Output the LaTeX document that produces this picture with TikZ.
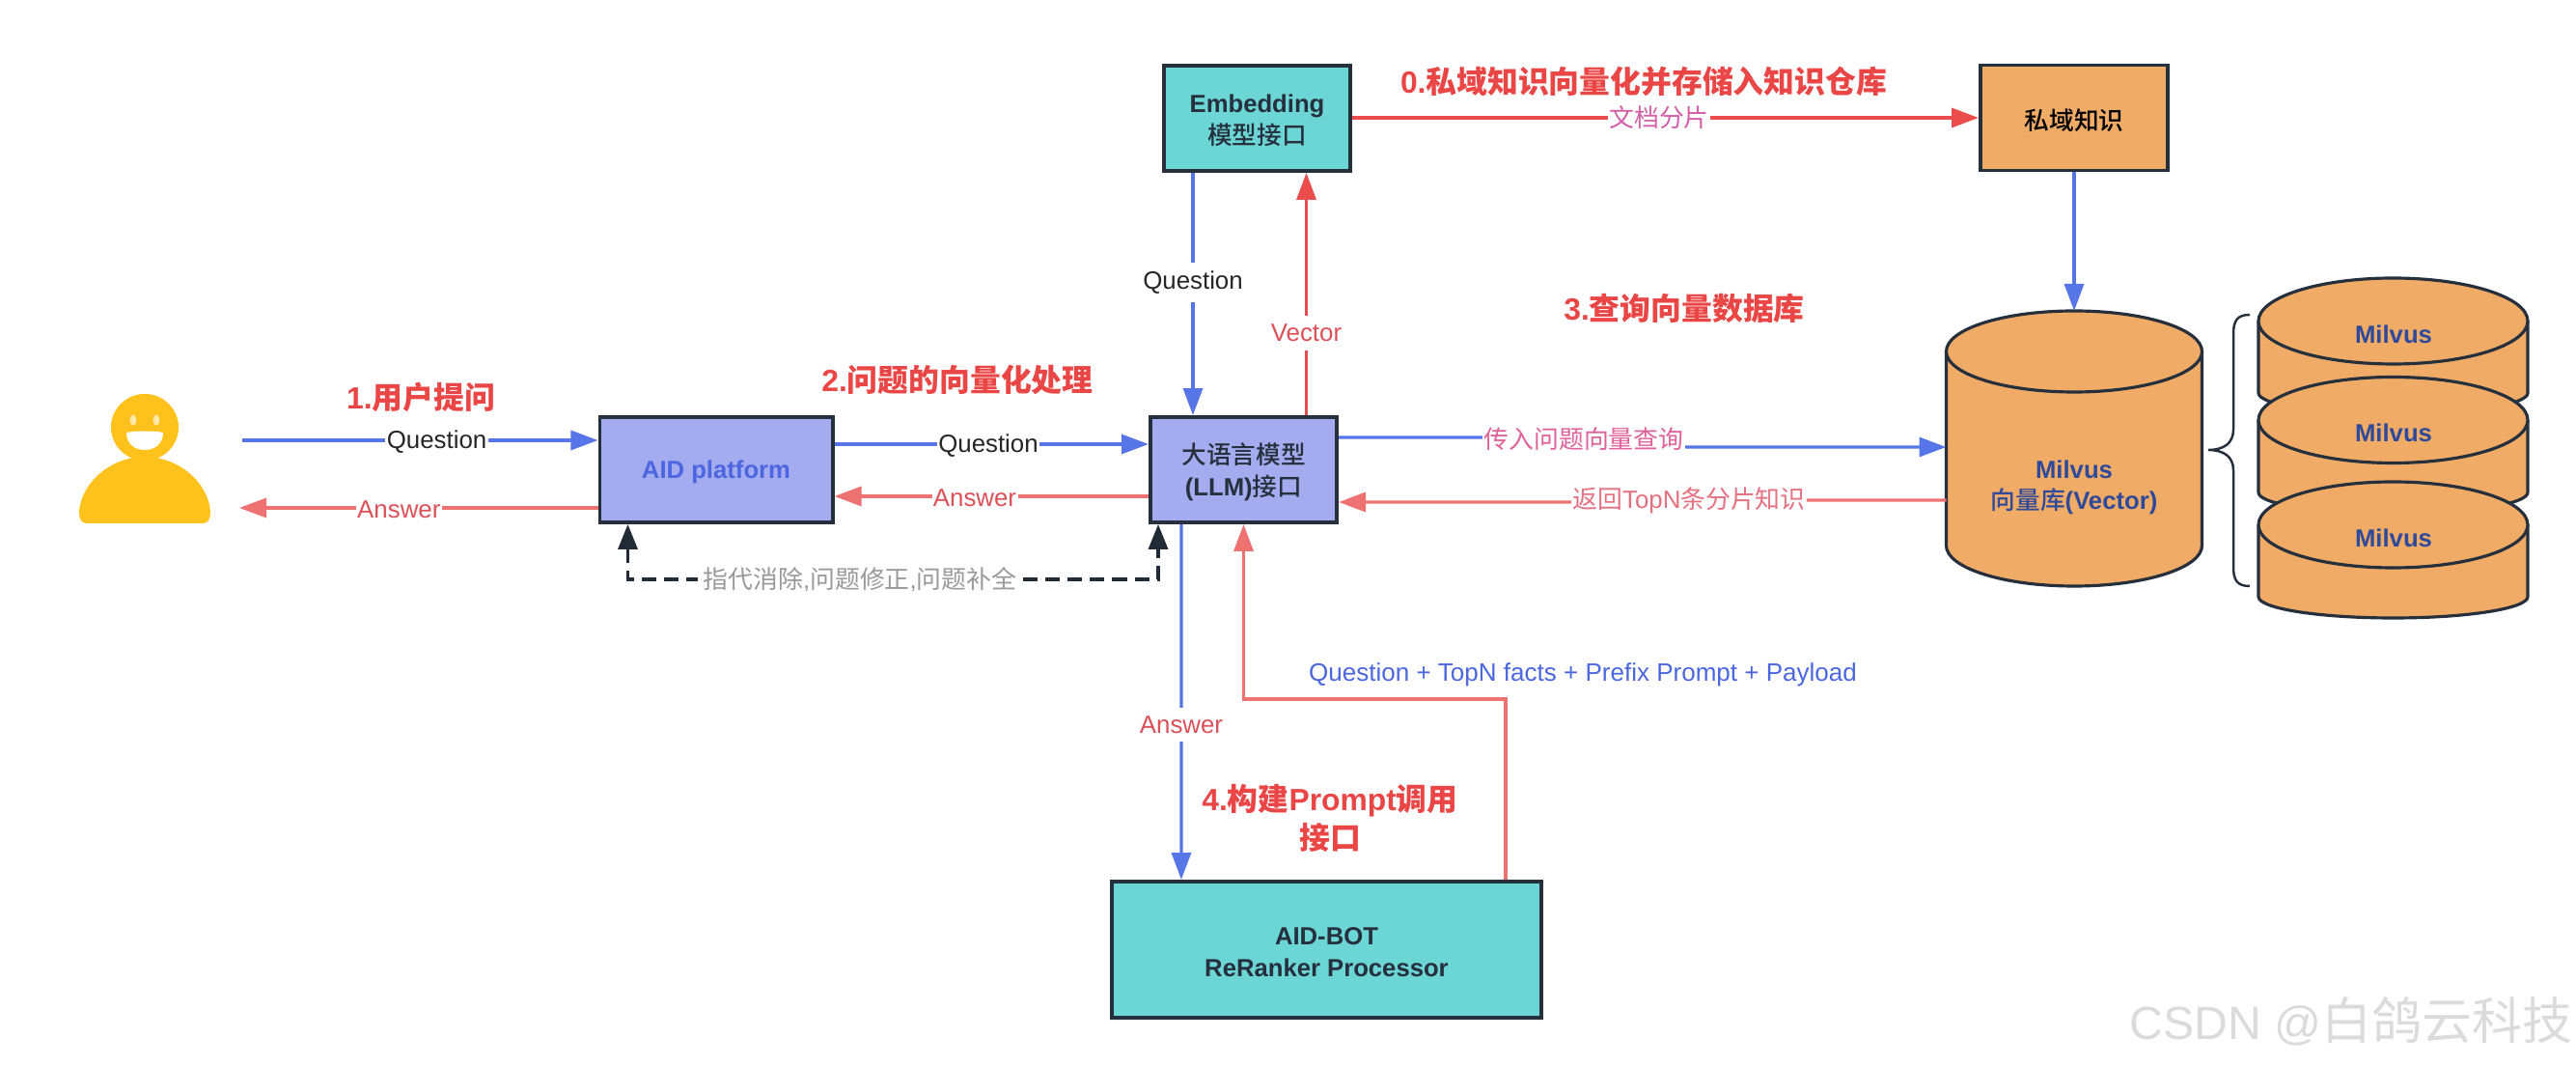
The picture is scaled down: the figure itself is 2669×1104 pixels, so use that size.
\documentclass[tikz,border=0pt]{standalone}
\usepackage{fontspec}
\setmainfont{Liberation Sans}
\newfontfamily\cjk{Noto Sans CJK SC}
\newfontfamily\cjkmid{Noto Sans CJK SC Medium}[BoldFont={Noto Sans CJK SC Medium}]
\usetikzlibrary{arrows.meta,calc}

\definecolor{lineblue}{HTML}{5676E8}
\definecolor{linered}{HTML}{EB4D4D}
\definecolor{linepink}{HTML}{EF7272}
\definecolor{boxlav}{HTML}{A5ABEF}
\definecolor{boxteal}{HTML}{6CD6D6}
\definecolor{boxorange}{HTML}{F0AB66}
\definecolor{edgedark}{HTML}{25303C}
\definecolor{titlered}{HTML}{EA4646}
\definecolor{textblue}{HTML}{4A66E0}
\definecolor{dbtext}{HTML}{2F4A9A}
\definecolor{docpink}{HTML}{D45FA8}
\definecolor{querypink}{HTML}{E0609A}
\definecolor{backpink}{HTML}{E57080}
\definecolor{ansred}{HTML}{DC5058}
\definecolor{facepale}{HTML}{FFE7A6}
\definecolor{personyellow}{HTML}{FFC11C}

\newcommand{\zh}[1]{{\cjk #1}}
\newcommand{\zhm}[1]{{\cjkmid #1}}

\tikzset{
  boxnode/.style={draw=edgedark, line width=1.1pt, inner sep=0pt},
  boxlab/.style={align=center, yshift=-0.7pt, font=\fontsize{7.3}{9.4}\selectfont\bfseries, text=edgedark},
  title/.style={font=\fontsize{9.05}{11.4}\selectfont\bfseries, text=titlered, align=center},
  lab/.style={fill=white, inner xsep=0.4pt, inner ysep=2.5pt, font=\fontsize{7.35}{9}\selectfont},
  latinlab/.style={lab, yshift=-0.4pt},
  flow/.style={line width=0.95pt, -{Triangle[length=2.8mm,width=2mm]}},
  dbedge/.style={draw=edgedark, fill=boxorange, line width=0.9pt},
  dbtxt/.style={font=\fontsize{7.3}{9.2}\selectfont\bfseries, text=dbtext, align=center}
}

\begin{document}
\begin{tikzpicture}[x=0.01cm, y=-0.01cm]
    \useasboundingbox (0,0) rectangle (2669,1104);

    % Person
    \fill[personyellow] (90,542) .. controls (84,542) and (82,537) .. (82,530)
      .. controls (84,500) and (115,473) .. (150,473)
      .. controls (185,473) and (216,500) .. (218,530)
      .. controls (218,537) and (216,542) .. (210,542) -- cycle;
    \fill[personyellow] (150,442.5) ellipse [x radius=35, y radius=34.5];
    \fill[facepale] (138,435) ellipse [x radius=3.5, y radius=5.5];
    \fill[facepale] (162,435) ellipse [x radius=3.5, y radius=5.5];
    \fill[white] (131,448) .. controls (140,446) and (160,446) .. (169,448)
      .. controls (169,460) and (160,466) .. (150,466)
      .. controls (140,466) and (131,460) .. (131,448) -- cycle;
    \coordinate (UserOut) at (251,456);
    \coordinate (UserIn) at (248,526);

    % Boxes
    \node[boxnode, fill=boxlav, minimum width=2.41cm, minimum height=1.09cm] (AID) at (742,486.5) {};
    \node[boxlab, text=textblue] (AIDtxt) at (AID) {AID platform};
    \node[boxnode, fill=boxlav, minimum width=1.93cm, minimum height=1.09cm] (LLM) at (1288.5,486.5) {};
    \node[boxlab] (LLMtxt) at (LLM) {\zhm{大语言模型}\\(LLM)\zhm{接口}};
    \node[boxnode, fill=boxteal, minimum width=1.93cm, minimum height=1.09cm] (Embed) at (1302.5,122.5) {};
    \node[boxlab] (Embedtxt) at (Embed) {Embedding\\\zhm{模型接口}};
    \node[boxnode, fill=boxorange, minimum width=1.94cm, minimum height=1.09cm] (Private) at (2149,122) {};
    \node[boxlab, text=black] (Privatetxt) at (Private) {\zhm{私域知识}};
    \node[boxnode, fill=boxteal, minimum width=4.45cm, minimum height=1.41cm] (Bot) at (1374.5,983.5) {};
    \node[boxlab] (Bottxt) at (Bot) {AID-BOT\\ReRanker Processor};

    % Big vector store
    \draw[dbedge] (2016.5,364) -- (2016.5,565) arc[start angle=180, end angle=0, x radius=132.5, y radius=42] -- (2281.5,364);
    \draw[dbedge] (2149,364) ellipse [x radius=132.5, y radius=42];
    \node[dbtxt] (Vector) at (2149,505) {Milvus\\\zhm{向量库}(Vector)};
    \coordinate (VecTop) at (2149,322);
    \coordinate (VecIn) at (2016.5,463);
    \coordinate (VecOut) at (2016.5,518);

    % Stacked drums
    \foreach \cy/\sy/\ry/\ty/\n in {332.5/407/22/346/1, 435/510/22/448/2, 543.5/618/22/557/3} {
      \draw[dbedge] (2340,\cy) -- (2340,\sy) arc[start angle=180, end angle=0, x radius=139.5, y radius=\ry] -- (2619,\cy);
      \draw[dbedge] (2479.5,\cy) ellipse [x radius=139.5, y radius=44.5];
      \node[dbtxt] (drum\n) at (2480,\ty) {Milvus};
    }

    % Brace
    \draw[edgedark, line width=0.7pt] (2331,326) .. controls (2318,326) and (2314,332) .. (2314,346)
      -- (2314,445) .. controls (2314,459) and (2304,466) .. (2288,466)
      .. controls (2304,466) and (2314,473) .. (2314,487)
      -- (2314,587) .. controls (2314,601) and (2318,607) .. (2331,607);

    % User and platform
    \draw[flow, lineblue] (UserOut) -- (UserOut -| AID.west) node[latinlab, text=black!85, pos=0.547] {Question};
    \draw[flow, linepink] (AID.west |- UserIn) -- (UserIn) node[latinlab, text=ansred, pos=0.555] {Answer};
    \draw[flow, lineblue] ($(AID.east)+(0,-26.5)$) -- ($(LLM.west)+(0,-26.5)$) node[latinlab, text=black!85, pos=0.49] {Question};
    \draw[flow, linepink] ($(LLM.west)+(0,27.5)$) -- ($(AID.east)+(0,27.5)$) node[latinlab, text=ansred, pos=0.553] {Answer};

    % Dashed feedback
    \coordinate (DashMid) at (891,600);
    \draw[line width=0.95pt, edgedark!90!black, dash pattern=on 4.3pt off 2.3pt, {Triangle[length=2.6mm,width=2mm]}-{Triangle[length=2.6mm,width=2mm]}]
      ($(AID.south west)+(31,0)$) |- (DashMid) -| ($(LLM.south west)+(10,0)$);
    \node[lab, text=black!40, inner xsep=1.5pt] (DashLab) at (DashMid) {\zh{指代消除},\zh{问题修正},\zh{问题补全}};

    % Embedding round trip
    \draw[flow, lineblue] ($(Embed.south west)+(32,0)$) -- ($(LLM.north west)+(46,0)$) node[latinlab, text=black!85, pos=0.448] {Question};
    \draw[flow, linered] ($(LLM.north west)+(163.5,0)$) -- ($(Embed.south west)+(149.5,0)$) node[latinlab, text=ansred, pos=0.345] {Vector};
    \draw[flow, linered] ($(Embed.east)+(0,-0.5)$) -- (Private.west) node[lab, text=docpink, pos=0.49] {\zh{文档分片}};
    \draw[flow, lineblue] (Private.south) -- (VecTop);

    % Vector query
    \draw[flow, lineblue] ($(LLM.east)+(0,-33.5)$) -- (1600,453) -- (1700,463) -- (VecIn);
    \node[lab, text=querypink] (QueryLab) at (1641,455) {\zh{传入问题向量查询}};
    \draw[flow, linepink] (VecOut) -- (1800,518) -- (1700,520) -- ($(LLM.east)+(0,33.5)$);
    \node[lab, text=backpink] (BackLab) at (1750,518) {\zh{返回}TopN\zh{条分片知识}};

    % Reranker round trip
    \draw[flow, lineblue] ($(LLM.south west)+(34,0)$) -- ($(Bot.north west)+(74,0)$) node[latinlab, text=ansred, pos=0.56] {Answer};
    \draw[flow, linepink] ($(Bot.north west)+(410,0)$) -- ++(0,-187) -| (LLM.south);
    \node[font=\fontsize{7.4}{9}\selectfont, text=textblue] (PromptLab) at (1640,699) {Question + TopN facts + Prefix Prompt + Payload};

    % Step titles
    \node[title] (step1) at (436,411) {1.\zh{用户提问}};
    \node[title] (step2) at (992,393) {2.\zh{问题的向量化处理}};
    \node[title] (step0) at (1703,84) {0.\zh{私域知识向量化并存储入知识仓库}};
    \node[title] (step3) at (1745,319) {3.\zh{查询向量数据库}};
    \node[title] (step4) at (1378,847) {4.\zh{构建}Prompt\zh{调用}\\\zh{接口}};

    % Watermark
    \node[text=black!14, font=\fontsize{13.7}{16}\selectfont] (mark) at (2436,1058) {CSDN @{\fontsize{14.8}{16}\selectfont\zh{白鸽云科技}}};
  \end{tikzpicture}
\end{document}
